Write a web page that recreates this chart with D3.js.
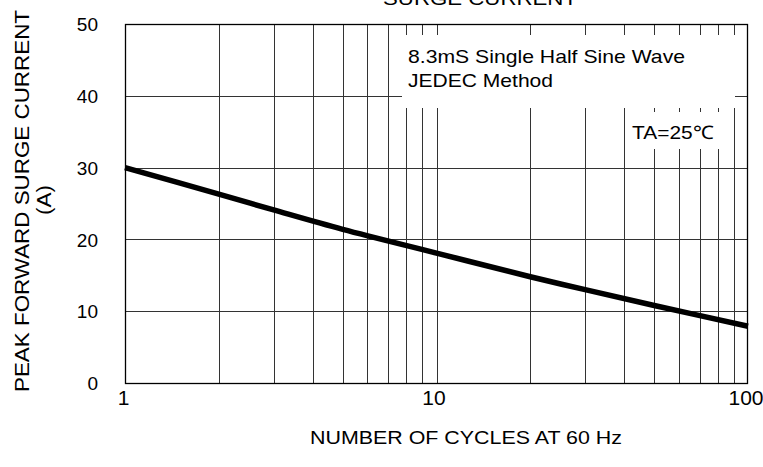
<!DOCTYPE html>
<html><head><meta charset="utf-8">
<script src="https://cdn.jsdelivr.net/npm/d3@7"></script>
<style>
body{margin:0;background:#fff;}
svg text{font-family:"Liberation Sans",Arial,sans-serif;fill:#000;}
</style></head>
<body><svg id="c" width="763" height="467"></svg>
<script>
const cycles = [1, 2, 3, 5, 10, 20, 30, 50, 100];
const current = [30, 26.3, 24.1, 21.4, 18.1, 14.8, 13.0, 10.8, 7.9];
const xTicks = [1, 10, 100];
const yTicks = [0, 10, 20, 30, 40, 50];
const xGrid = [2,3,4,5,6,7,8,9,10,20,30,40,50,60,70,80,90];
const yGrid = [10,20,30,40];

const svg = d3.select("#c");
const L = 125, R = 748, T = 24, B = 383;
const x = d3.scaleLog().domain([1,100]).range([L,R]);
const y = d3.scaleLinear().domain([0,50]).range([B,T]);

// grid
svg.append("g").selectAll("line").data(xGrid).join("line")
  .attr("x1", d=>Math.round(x(d))+0.5).attr("x2", d=>Math.round(x(d))+0.5)
  .attr("y1", T).attr("y2", B).attr("stroke","#333").attr("stroke-width",1);
svg.append("g").selectAll("line").data(yGrid).join("line")
  .attr("y1", d=>Math.round(y(d))+0.5).attr("y2", d=>Math.round(y(d))+0.5)
  .attr("x1", L).attr("x2", R).attr("stroke","#333").attr("stroke-width",1);

// white label boxes
svg.append("rect").attr("x",402).attr("y",35).attr("width",333).attr("height",73).attr("fill","#fff");
svg.append("rect").attr("x",626).attr("y",112).attr("width",106).attr("height",37).attr("fill","#fff");

// frame
svg.append("rect").attr("x",L+0.5).attr("y",T+0.5).attr("width",R-L-1).attr("height",B-T)
  .attr("fill","none").attr("stroke","#000").attr("stroke-width",1.3);

// curve
svg.append("path").datum(cycles.map((c,i)=>[c,current[i]]))
  .attr("d", d3.line().x(d=>x(d[0])).y(d=>y(d[1])).curve(d3.curveCatmullRom.alpha(0.5)))
  .attr("fill","none").attr("stroke","#000").attr("stroke-width",5.5);

// axes
const xa = svg.append("g").attr("transform",`translate(0,${B})`)
  .call(d3.axisBottom(x).tickValues(xTicks).tickFormat(d3.format("d")).tickSize(0).tickPadding(22));
xa.select(".domain").remove();
xa.selectAll("text").attr("font-size",21).attr("dy","0");
xa.selectAll(".tick text").attr("x", d=> d===100 ? -2.5 : (d===10 ? -3 : -2));
const ya = svg.append("g").attr("transform",`translate(${L},0)`)
  .call(d3.axisLeft(y).tickValues(yTicks).tickSize(0).tickPadding(27));
ya.select(".domain").remove();
ya.selectAll("text").attr("font-size",19).attr("dy","0.35em");

function t(str, opts){
  const el = svg.append("text").attr("font-size",opts.fs).text(str);
  if(opts.tf) el.attr("transform",opts.tf); else el.attr("x",opts.x).attr("y",opts.y);
  if(opts.anchor) el.attr("text-anchor",opts.anchor);
  if(opts.len) el.attr("textLength",opts.len).attr("lengthAdjust","spacingAndGlyphs");
  return el;
}
t("NUMBER OF CYCLES AT 60 Hz",{x:310,y:444,fs:18.5,len:312});
t("PEAK FORWARD SURGE CURRENT",{tf:"translate(29,392) rotate(-90)",fs:20,len:382});
t("(A)",{tf:"translate(51,215) rotate(-90)",fs:20,len:30});
t("SURGE CURRENT",{x:383,y:5,fs:18.5,len:194});
t("8.3mS Single Half Sine Wave",{x:408,y:63,fs:18.5,len:277});
t("JEDEC Method",{x:408,y:87,fs:18.5,len:145});
t("TA=25℃",{x:632,y:139,fs:18.5,len:81});
</script></body></html>
